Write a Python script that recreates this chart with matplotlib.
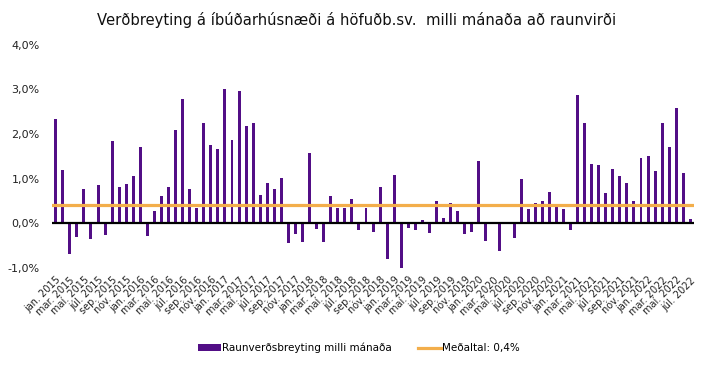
import matplotlib
matplotlib.use("Agg")
import matplotlib.pyplot as plt
from matplotlib.patches import Patch
from matplotlib.lines import Line2D

title = "Verðbreyting á íbúðarhúsnæði á höfuðb.sv.  milli mánaða að raunvirði"
month_names = ["jan.", "feb.", "mar.", "apr.", "maí.", "jún.", "júl.", "ágú.", "sep.", "okt.", "nóv.", "des."]
years = [2015, 2016, 2017, 2018, 2019, 2020, 2021, 2022]
categories = [f"{m} {y}" for y in years for m in month_names][:91]

values = [
    2.34, 1.19, -0.69, -0.30, 0.76, -0.35, 0.85, -0.27, 1.84, 0.82, 0.88, 1.06,
    1.72, -0.29, 0.27, 0.61, 0.82, 2.10, 2.79, 0.76, 0.35, 2.25, 1.76, 1.66,
    3.00, 1.87, 2.97, 2.19, 2.26, 0.64, 0.91, 0.76, 1.02, -0.45, -0.25, -0.42,
    1.57, -0.13, -0.42, 0.62, 0.34, 0.34, 0.55, -0.16, 0.34, -0.19, 0.81, -0.79,
    1.08, -1.03, -0.10, -0.15, 0.07, -0.22, 0.51, 0.13, 0.46, 0.28, -0.24, -0.20,
    1.40, -0.40, 0.03, -0.63, 0.00, -0.34, 1.00, 0.31, 0.46, 0.50, 0.71, 0.43,
    0.31, -0.14, 2.87, 2.26, 1.33, 1.30, 0.69, 1.21, 1.05, 0.90, 0.50, 1.47,
    1.50, 1.18, 2.24, 1.72, 2.58, 1.12, 0.10,
]
average = 0.4
yticks = [-1, 0, 1, 2, 3, 4]
ytick_labels = ["-1,0%", "0,0%", "1,0%", "2,0%", "3,0%", "4,0%"]
bar_label = "Raunverðsbreyting milli mánaða"
avg_label = "Meðaltal: 0,4%"

purple = "#520E86"
orange = "#F3AE4B"

plt.rcParams['font.family'] = ['DejaVu Sans']
fig = plt.figure(figsize=(7.13, 3.65), dpi=100)
ax = fig.add_axes([0.0732, 0.266, 0.900, 0.611])

x = list(range(len(values)))
ax.bar(x, values, width=0.42, color=purple, zorder=2)
ax.axhline(0, color="black", lw=1.6, zorder=3)
ax.axhline(average, color=orange, lw=2.3, zorder=4)

ax.set_xlim(-0.5, len(values) - 0.5)
ax.set_ylim(-1, 4)
ax.set_yticks(yticks)
ax.set_yticklabels(ytick_labels, fontsize=8, color="#222222")
ax.set_xticks(x[::2])
ax.set_xticklabels(categories[::2], rotation=45, ha="right", rotation_mode="anchor",
                   fontsize=7, color="#222222")
ax.tick_params(axis="both", length=0)
ax.tick_params(axis="x", pad=5)
ax.tick_params(axis="y", pad=9)
for s in ax.spines.values():
    s.set_visible(False)

fig.text(0.5, 0.945, title, ha="center", va="center", fontsize=10.6, color="#111111")

handles = [Patch(facecolor=purple, label=bar_label),
           Line2D([0], [0], color=orange, lw=2.3, label=avg_label)]
fig.legend(handles=handles, loc="center", bbox_to_anchor=(0.503, 0.047), ncol=2,
           frameon=False, fontsize=7.5, handlelength=2.2, handleheight=0.6,
           columnspacing=2.5, handletextpad=0.1)

fig.savefig("out.png", dpi=100)
